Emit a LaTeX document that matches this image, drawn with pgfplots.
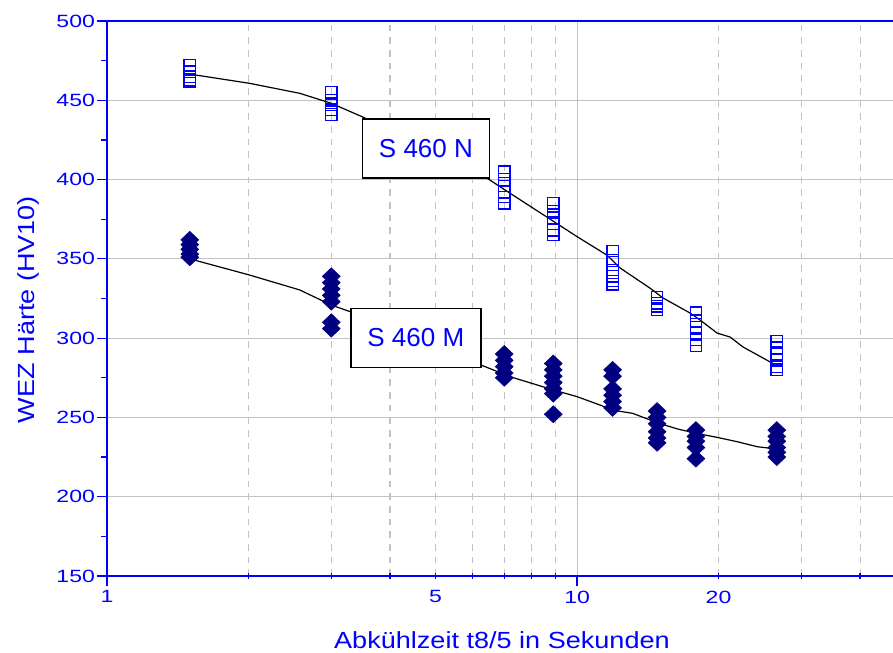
\documentclass[border=0pt]{standalone}
\usepackage{fontspec}
\setmainfont{Liberation Sans}
\newfontfamily\tickfont[FakeStretch=1.3]{Liberation Sans}
\newfontfamily\labfont[FakeStretch=1.16]{Liberation Sans}
\usepackage{pgfplots}
\pgfplotsset{compat=1.18}
\definecolor{axblue}{RGB}{0,0,255}
\definecolor{navy}{RGB}{0,0,128}
\definecolor{gridgray}{RGB}{195,195,195}
\begin{document}
\begin{tikzpicture}
\begin{axis}[
  name=ax,
  scale only axis, width=589.5pt, height=416.25pt,
  xmode=log, xmin=1, xmax=47, ymin=150, ymax=500,
  axis y line*=left,
  axis line style={-, axblue, line width=1.1pt},
  xtick={1,10}, xticklabels={1,10},
  extra x ticks={5,20}, extra x tick labels={5,20},
  extra x tick style={grid=none, tick style={draw=none}},
  minor xtick={2,3,4,5,6,7,8,9,20,30,40},
  ytick={150,200,...,500}, minor ytick={175,225,...,475},
  xtick pos=left, ytick pos=left,
  tick align=outside,
  major tick length=7.5pt, minor tick length=4.5pt,
  every tick/.style={axblue, line width=0.9pt},
  minor x tick style={yshift=2.25pt},
  xmajorgrids, xminorgrids, ymajorgrids,
  major grid style={gridgray, line width=0.8pt},
  minor grid style={gridgray, line width=0.8pt, dash pattern=on 5pt off 4.5pt},
  /pgf/number format/assume math mode=true,
  ticklabel style={font=\tickfont\fontsize{13.3}{14}\selectfont, text=axblue},
  yticklabel style={xshift=2pt},
  xlabel={Abkühlzeit t8/5 in Sekunden},
  ylabel={WEZ Härte (HV10)},
  label style={font=\labfont\fontsize{17.5}{18}\selectfont, text=axblue},
  xlabel style={at={(axis description cs:0.5025,-0.115)}, anchor=center},
  ylabel style={at={(axis description cs:-0.100,0.48)}, anchor=center},
]
% S 460 N data (open squares)
\addplot[only marks, mark=square, mark size=4.3pt, axblue, line width=1pt] coordinates {
 (1.5,472) (1.5,468) (1.5,465) (1.5,463) (1.5,462)
 (3,455) (3,450) (3,447) (3,444) (3,441)
 (7,405) (7,400) (7,396) (7,392) (7,389) (7,385)
 (8.9,385) (8.9,380) (8.9,376) (8.9,372) (8.9,368) (8.9,365)
 (11.9,355) (11.9,349) (11.9,343) (11.9,339) (11.9,336) (11.9,334)
 (14.8,326) (14.8,322) (14.8,320) (14.8,318)
 (17.9,316) (17.9,311) (17.9,307) (17.9,303) (17.9,299) (17.9,295)
 (26.6,298) (26.6,294) (26.6,290) (26.6,286) (26.6,282) (26.6,280)
};
% S 460 M data (filled diamonds)
\addplot[only marks, mark=diamond*, mark size=6.4pt, navy, mark options={xscale=1.4}] coordinates {
 (1.5,362) (1.5,359) (1.5,356) (1.5,353) (1.5,351)
 (3,339) (3,335) (3,331) (3,327) (3,323) (3,310) (3,306)
 (7,290) (7,286) (7,282) (7,278) (7,275)
 (8.9,284) (8.9,280) (8.9,276) (8.9,272) (8.9,268) (8.9,265) (8.9,252)
 (11.9,280) (11.9,276) (11.9,268) (11.9,264) (11.9,260) (11.9,256)
 (14.8,254) (14.8,250) (14.8,246) (14.8,241) (14.8,237) (14.8,234)
 (17.9,242) (17.9,238) (17.9,235) (17.9,231) (17.9,224)
 (26.6,242) (26.6,238) (26.6,235) (26.6,231) (26.6,228) (26.6,225)
};
% fit curves
\addplot[black, line width=0.9pt, mark=none] coordinates {
 (1.5,466.5) (2.01,460.7) (2.57,454.4) (3,448.1) (3.51,439.3) (6.47,400.4) (7.2,391.4)
 (8.62,376.4) (10,364) (11.57,352.4) (12.35,344.2) (14.3,331.5) (15.24,325.3)
 (17.4,315.8) (18.27,311.4) (19.86,303.2) (21.16,300.7) (22.55,294.4) (25.74,285) (26.6,283)
};
\addplot[black, line width=0.9pt, mark=none] coordinates {
 (1.5,350) (2.01,339.8) (2.57,330.4) (3,320.9) (3.29,316.7) (6.24,283.1) (7.2,275.7)
 (8.91,267.3) (10,263.1) (11.19,257.8) (11.95,254.5) (13.12,252.6) (14.93,246.3)
 (16.37,242.7) (17.91,240) (19.8,237.5) (21.9,234.7) (24.2,231.5) (26.57,230.1)
};
\node[draw=black, line width=1.1pt, fill=white, minimum width=95.25pt, minimum height=44.25pt,
  inner sep=0pt, font=\fontsize{19.5}{20}\selectfont, text=axblue] at (axis cs:4.77,419.6) {S 460 N};
\node[draw=black, line width=1.1pt, fill=white, minimum width=97.5pt, minimum height=44.5pt,
  inner sep=0pt, font=\fontsize{19.5}{20}\selectfont, text=axblue] at (axis cs:4.54,300.1) {S 460 M};
\end{axis}
\pgfresetboundingbox
\path ([shift={(-80.25pt,-57.75pt)}]ax.south west) rectangle ([shift={(0pt,15.75pt)}]ax.north east);
\end{tikzpicture}
\end{document}
